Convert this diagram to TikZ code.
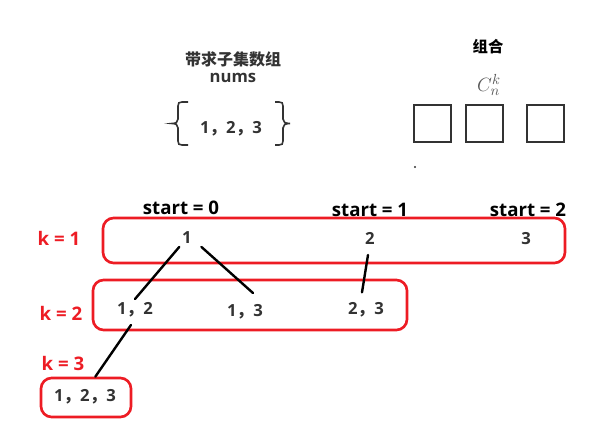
\documentclass[tikz,border=0pt]{standalone}
\usepackage{fontspec}
\setmainfont{Open Sans}
\newfontfamily\cjkfont{Noto Sans CJK SC}
\usepackage{xcolor}
\usetikzlibrary{positioning}

\definecolor{paintred}{HTML}{ED1C24}
\definecolor{txtgray}{HTML}{333333}
\newlength\unitpx
\setlength\unitpx{0.75pt}
\newcommand\fwc{{\cjkfont ，}}

\tikzset{
    levelbox/.style={rectangle, draw=paintred, line width=2pt, rounded corners=8pt, inner sep=0pt},
    num/.style={font=\bfseries\fontsize{12.5}{14}\selectfont, text=txtgray, inner sep=2pt, text depth=0pt},
    klabel/.style={font=\bfseries\fontsize{14}{16}\selectfont, text=paintred},
    startlabel/.style={font=\bfseries\fontsize{14}{16}\selectfont, text=black},
    slot/.style={rectangle, draw=txtgray, line width=1.5pt, minimum size=27.75pt, inner sep=0pt},
    branch/.style={line width=1.8pt, line cap=round}
}

\begin{document}
\begin{tikzpicture}[x=0.75pt, y=-0.75pt]
    \useasboundingbox (0,0) rectangle (610,438);

    % Input array
    \node[font=\cjkfont\bfseries\fontsize{12}{14}\selectfont, text=txtgray] (title) at (233,59) {带求子集数组};
    \node[font=\bfseries\fontsize{12.5}{14}\selectfont, text=txtgray] (numsname) at (233,78) {nums};
    \node[num] (numset) at (231,127) {1\fwc 2\fwc 3};
    \draw[txtgray, line width=1.2pt] (188,102) -- (182,102) .. controls (179,102) and (178,103) .. (178,106)
        -- (178,119) .. controls (178,122) and (176,123.5) .. (172,123.5)
        .. controls (176,123.5) and (178,125) .. (178,128) -- (178,141)
        .. controls (178,144) and (179,145) .. (182,145) -- (188,145);
    \draw[txtgray, line width=1.2pt] (275,102) -- (279,102) .. controls (282,102) and (283,103) .. (283,106)
        -- (283,119) .. controls (283,122) and (285,123.5) .. (290,123.5)
        .. controls (285,123.5) and (283,125) .. (283,128) -- (283,141)
        .. controls (283,144) and (282,145) .. (279,145) -- (275,145);

    % Combination slots
    \node[font=\cjkfont\bfseries\fontsize{11.5}{13}\selectfont] (combo) at (488,47) {组合};
    \node[text=gray!70!black, font=\fontsize{15}{15}\selectfont, inner sep=0pt] (cnk) at (489,85) {$C_n^k$};
    \node[slot] (slot1) at (432.5,124) {};
    \node[slot] (slot2) at (484.5,124) {};
    \node[slot] (slot3) at (545,124) {};
    \fill[txtgray] (415,167) circle (0.8pt);

    % Levels
    \node[levelbox, minimum width=462\unitpx, minimum height=45\unitpx] (level1) at (334,240.5) {};
    \node[levelbox, minimum width=314\unitpx, minimum height=50\unitpx] (level2) at (250,305) {};
    \node[levelbox, minimum width=90\unitpx, minimum height=39\unitpx] (level3) at (86,397.5) {};

    \node[klabel] (k1) at (59,238) {k = 1};
    \node[klabel] (k2) at (61,313) {k = 2};
    \node[klabel] (k3) at (63,363) {k = 3};

    \node[startlabel] (start0) at (181,208) {start = 0};
    \node[startlabel] (start1) at (370,210) {start = 1};
    \node[startlabel] (start2) at (528,210) {start = 2};

    % Elements
    \node[num] (n1) at (187,238) {1};
    \node[num] (n2) at (370,238) {2};
    \node[num] (n3) at (526,238) {3};
    \node[num] (n12) at (135,308) {1\fwc 2};
    \node[num] (n13) at (245,310) {1\fwc 3};
    \node[num] (n23) at (366,308) {2\fwc 3};
    \node[num] (n123) at (85,395) {1\fwc 2\fwc 3};

    % Branches
    \draw[branch] (n1.south west) -- (n12.north);
    \draw[branch] ([xshift=5pt]n1.south east) -- ([xshift=6pt, yshift=6pt]n13.north);
    \draw[branch] ([xshift=-1.5pt, yshift=-6pt]n2.south) -- ([xshift=-3pt, yshift=5pt]n23.north);
    \draw[branch] ([xshift=-3pt, yshift=-6pt]n12.south) -- ([xshift=7pt]level3.north);
\end{tikzpicture}
\end{document}
